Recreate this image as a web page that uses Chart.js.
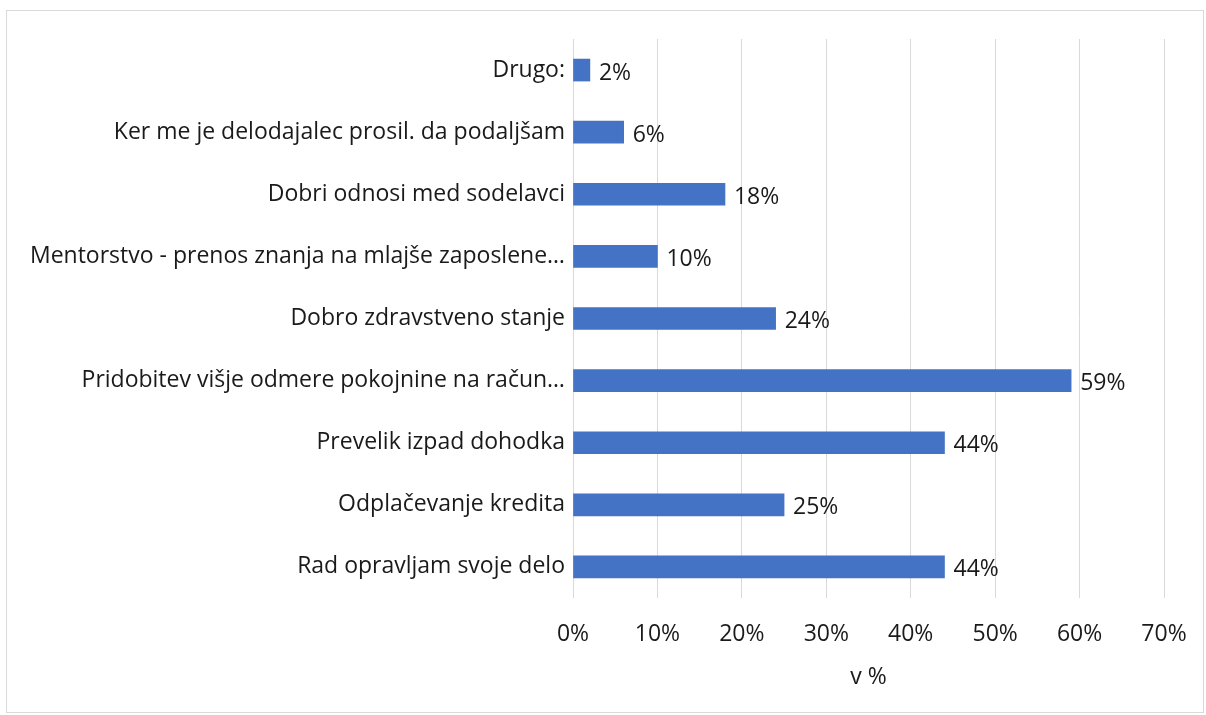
<!DOCTYPE html>
<html lang="sl">
<head>
<meta charset="UTF-8">
<script src="https://cdn.jsdelivr.net/npm/chart.js"></script>
<title>Razlogi</title>
<style>
  body { margin: 0; background: #fff; }
  #wrap { position: relative; width: 1206px; height: 715px; }
  #frame { position: absolute; left: 6px; top: 10px; width: 1196px; height: 701px; border: 1px solid #d9d9d9; }
  canvas { position: absolute; left: 0; top: 0; }
</style>
</head>
<body>
<div id="wrap">
  <div id="frame"></div>
  <canvas id="myChart" width="1206" height="715"></canvas>
</div>
<script>
const categories = [
  'Drugo:',
  'Ker me je delodajalec prosil. da podaljšam',
  'Dobri odnosi med sodelavci',
  'Mentorstvo - prenos znanja na mlajše zaposlene…',
  'Dobro zdravstveno stanje',
  'Pridobitev višje odmere pokojnine na račun…',
  'Prevelik izpad dohodka',
  'Odplačevanje kredita',
  'Rad opravljam svoje delo'
];
const values = [2, 6, 18, 10, 24, 59, 44, 25, 44];
const xTicks = [0, 10, 20, 30, 40, 50, 60, 70];

const font = "'Open Sans', Lato, sans-serif";
const fontSize = 23;

const barLabels = {
  id: 'barLabels',
  afterDatasetsDraw(chart) {
    const c = chart.ctx;
    const meta = chart.getDatasetMeta(0);
    c.save();
    c.font = fontSize + 'px ' + font;
    c.fillStyle = '#1a1a1a';
    c.textAlign = 'left';
    c.textBaseline = 'middle';
    meta.data.forEach((bar, i) => {
      c.fillText(values[i] + '%', bar.x + 9, bar.y + 3);
    });
    c.restore();
  }
};

const ctx = document.getElementById('myChart');
new Chart(ctx, {
  type: 'bar',
  data: {
    labels: categories,
    datasets: [{
      data: values,
      backgroundColor: '#4472C4',
      barThickness: 22
    }]
  },
  options: {
    indexAxis: 'y',
    responsive: false,
    animation: false,
    layout: { padding: { top: 39, right: 42, left: 0, bottom: 0 } },
    plugins: { legend: { display: false }, tooltip: { enabled: false } },
    scales: {
      x: {
        min: 0,
        max: 70,
        afterBuildTicks: (scale) => { scale.ticks = xTicks.map(v => ({ value: v })); },
        afterFit: (scale) => {
          scale.height = 117;
          scale.paddingLeft = 0;
          scale.paddingRight = 0;
        },
        grid: { color: '#d9d9d9', drawTicks: false, lineWidth: 1 },
        border: { display: false },
        ticks: {
          padding: 23,
          color: '#1a1a1a',
          font: { family: font, size: fontSize },
          callback: (v) => v + '%'
        },
        title: {
          display: true,
          text: 'v %',
          color: '#1a1a1a',
          font: { family: font, size: fontSize },
          padding: { top: 0, bottom: 24 }
        }
      },
      y: {
        afterFit: (scale) => { scale.width = 573; },
        grid: { display: false, drawTicks: false },
        border: { display: false },
        ticks: {
          padding: 8,
          color: '#1a1a1a',
          font: { family: font, size: fontSize }
        }
      }
    }
  },
  plugins: [barLabels]
});
</script>
</body>
</html>
